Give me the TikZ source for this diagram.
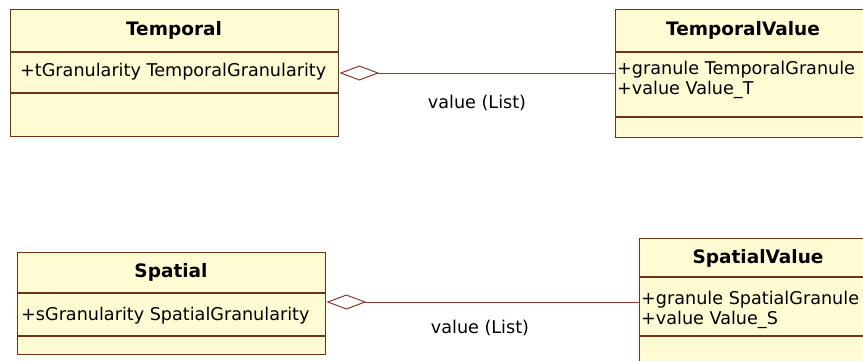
\documentclass[tikz,border=0pt]{standalone}
\usepackage{fontspec}
\setmainfont{DejaVu Sans}
\usetikzlibrary{arrows.meta}
\definecolor{classfill}{HTML}{FFFBD2}
\definecolor{classline}{HTML}{6E3418}
\definecolor{assocline}{HTML}{8A3A2E}
\tikzset{
  classbox/.style={draw=classline, fill=classfill, line width=1.4pt, anchor=north west, inner sep=0pt},
  divider/.style={draw=classline, line width=1.2pt},
  header/.style={font=\fontsize{18.5}{22}\selectfont\bfseries, inner sep=0pt},
  attr/.style={font=\fontsize{17.6}{20}\selectfont, inner sep=0pt, anchor=west},
  assoc/.style={draw=assocline, line width=1pt, {Diamond[open, length=40pt, width=15pt, line width=1pt]}-},
  rolelabel/.style={font=\fontsize{17.6}{20}\selectfont, inner sep=0pt}
}
\begin{document}
\begin{tikzpicture}[x=1pt, y=-1pt]
  \useasboundingbox[fill=white] (0,0) rectangle (863,360);
  \clip (0,0) rectangle (863,360);

  % Temporal class
  \node[classbox, minimum width=328pt, minimum height=127pt] (temporal) at (10,9) {};
  \draw[divider] (10,52) -- (338,52);
  \draw[divider] (10,93) -- (338,93);
  \node[header] (temporalname) at (174,30) {Temporal};
  \node[attr] (temporalattr) at (20,72) {+tGranularity TemporalGranularity};

  % TemporalValue class
  \node[classbox, minimum width=300pt, minimum height=128pt] (tvalue) at (615,9) {};
  \draw[divider] (615,52) -- (915,52);
  \draw[divider] (615,117) -- (915,117);
  \node[header] (tvaluename) at (743,30) {TemporalValue};
  \node[attr] (tvalueattra) at (617,70) {+granule TemporalGranule};
  \node[attr] (tvalueattrb) at (617,90) {+value Value\_T};

  % Spatial class
  \node[classbox, minimum width=308pt, minimum height=102pt] (spatial) at (17,252) {};
  \draw[divider] (17,293) -- (325,293);
  \draw[divider] (17,336) -- (325,336);
  \node[header] (spatialname) at (171,272) {Spatial};
  \node[attr] (spatialattr) at (21,316) {+sGranularity SpatialGranularity};

  % SpatialValue class
  \node[classbox, minimum width=300pt, minimum height=160pt] (svalue) at (639,238) {};
  \draw[divider] (639,277) -- (939,277);
  \draw[divider] (639,336) -- (939,336);
  \node[header] (svaluename) at (758,258) {SpatialValue};
  \node[attr] (svalueattra) at (641,300) {+granule SpatialGranule};
  \node[attr] (svalueattrb) at (641,320) {+value Value\_S};

  % Aggregations
  \coordinate (tjoin) at (0,73);
  \draw[assoc] (temporal.east |- tjoin) -- (tvalue.west |- tjoin);
  \node[rolelabel] (tlabel) at (477,103) {value (List)};

  \coordinate (sjoin) at (0,302);
  \draw[assoc] (spatial.east |- sjoin) -- (svalue.west |- sjoin);
  \node[rolelabel] (slabel) at (480,328) {value (List)};
\end{tikzpicture}
\end{document}
